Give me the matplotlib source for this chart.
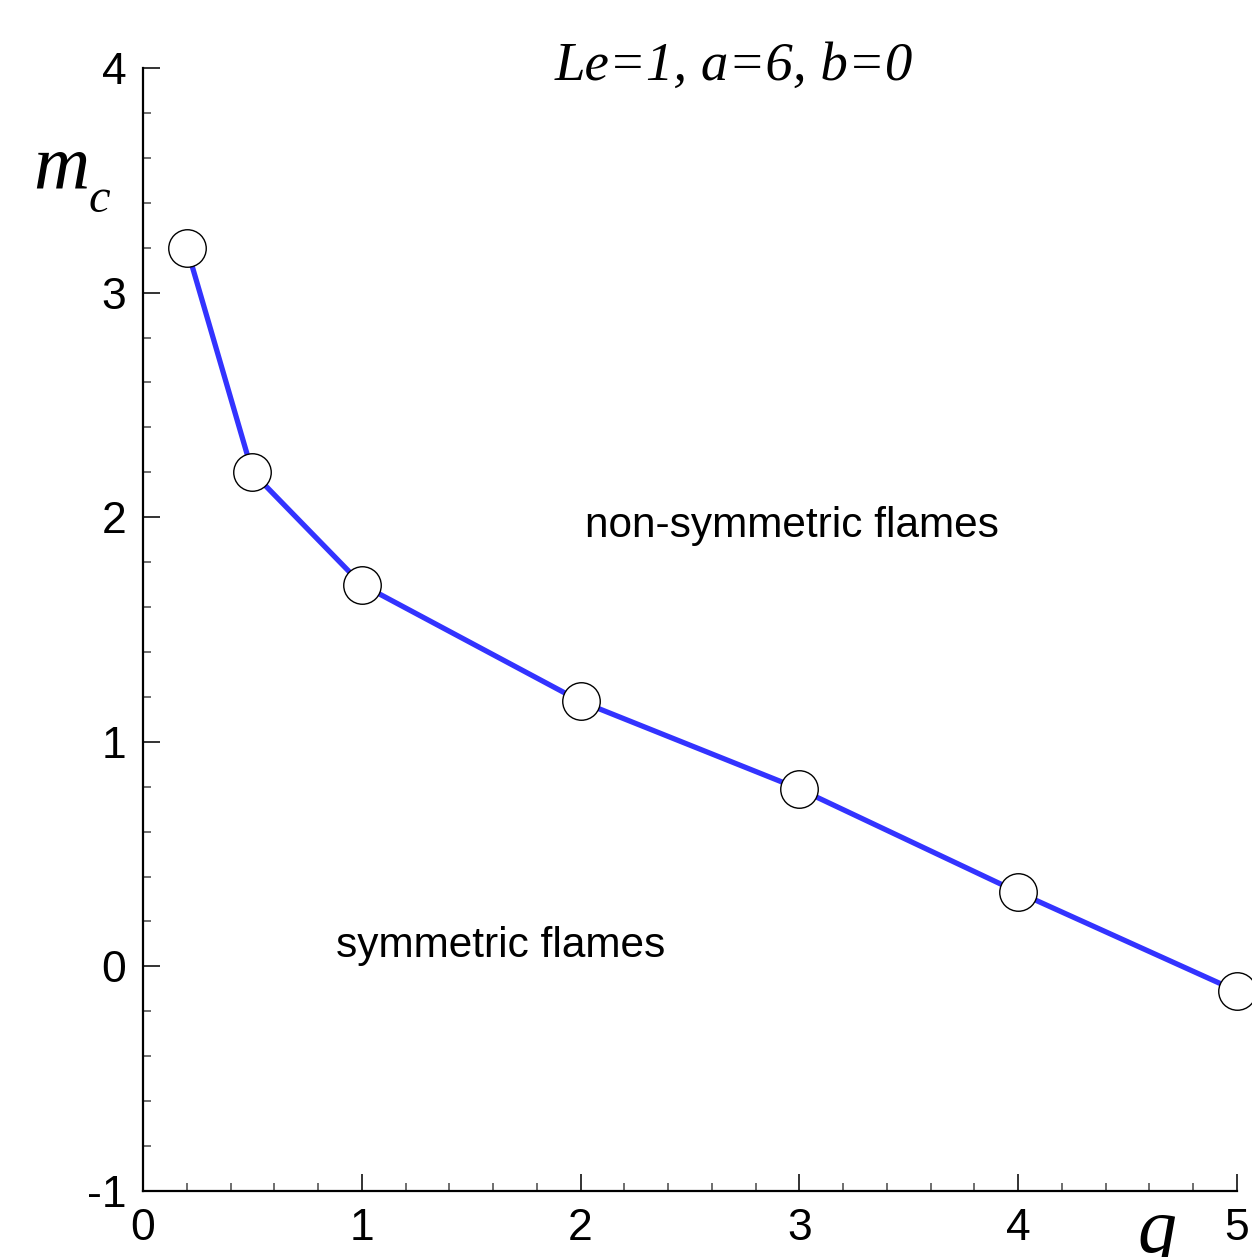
import matplotlib
matplotlib.use("Agg")
import matplotlib.pyplot as plt
from matplotlib.ticker import MultipleLocator

plt.rcParams["axes.unicode_minus"] = False

# critical m vs q
q_vals = [0.2, 0.5, 1.0, 2.0, 3.0, 4.0, 5.0]
m_crit = [3.2, 2.2, 1.7, 1.18, 0.79, 0.33, -0.11]

x_ticks = [0, 1, 2, 3, 4, 5]
y_ticks = [-1, 0, 1, 2, 3, 4]

W, H = 1252, 1257
fig = plt.figure(figsize=(W / 100, H / 100), dpi=100)
ax = fig.add_axes([143 / W, 66 / H, 1094 / W, 1123 / H])

ax.plot(q_vals, m_crit, color="#3333ff", lw=3.8, zorder=2, clip_on=False)
ax.plot(q_vals, m_crit, ls="none", marker="o", ms=27, mfc="white",
        mec="black", mew=1.0, zorder=3, clip_on=False)

ax.set_xlim(0, 5)
ax.set_ylim(-1, 4)
ax.set_xticks(x_ticks)
ax.set_yticks(y_ticks)
ax.xaxis.set_minor_locator(MultipleLocator(0.2))
ax.yaxis.set_minor_locator(MultipleLocator(0.2))

for s in ["top", "right"]:
    ax.spines[s].set_visible(False)
for s in ["left", "bottom"]:
    ax.spines[s].set_linewidth(1.6)

ax.tick_params(which="major", direction="in", length=12, width=1.4,
               color="#333333", labelsize=32, pad=12)
ax.tick_params(which="minor", direction="in", length=6, width=1.2,
               color="#555555")
ax.tick_params(axis="x", pad=12)
for lab in ax.get_xticklabels() + ax.get_yticklabels():
    lab.set_family("Liberation Sans")

# region labels
ax.text(2.02, 1.96, "non-symmetric flames", fontsize=30.5,
        family="Liberation Sans", va="center", ha="left")
ax.text(0.88, 0.09, "symmetric flames", fontsize=30.5,
        family="Liberation Sans", va="center", ha="left")

serif = "Liberation Serif"
fig.text(555 / W, 1 - 80 / H, "Le=1, a=6, b=0", fontsize=39.5, family=serif,
         style="italic", ha="left", va="baseline")
fig.text(33 / W, 1 - 188 / H, "m", fontsize=56, family=serif,
         style="italic", ha="left", va="baseline")
fig.text(88 / W, 1 - 212 / H, "c", fontsize=35, family=serif,
         style="italic", ha="left", va="baseline")
fig.text(1137 / W, 1 - 1252 / H, "q", fontsize=56, family=serif,
         style="italic", ha="left", va="baseline")

fig.savefig("out.png", dpi=100)
